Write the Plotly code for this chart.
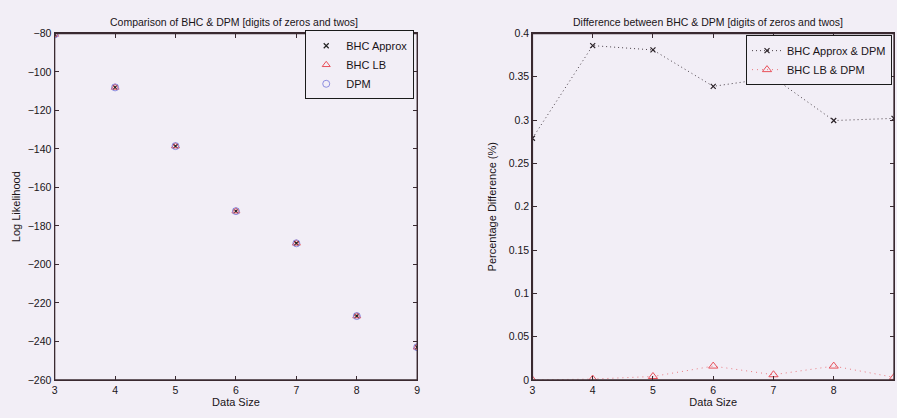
import plotly.graph_objects as go

# Data sizes tested
data_size = [3, 4, 5, 6, 7, 8, 9]

# Log likelihoods (left panel)
bhc_approx = [-80.5, -108, -138.5, -172.3, -189, -226.8, -243]
bhc_lb = [-80.5, -108, -138.5, -172.3, -189, -226.8, -243]
dpm = [-80.5, -108, -138.5, -172.3, -189, -226.8, -243]

# Percentage differences (right panel)
diff_approx_dpm = [0.279, 0.386, 0.381, 0.339, 0.349, 0.2995, 0.302]
diff_lb_dpm = [0.0, 0.001, 0.004, 0.016, 0.006, 0.016, 0.003]

# Tick values
left_yticks = [-80, -100, -120, -140, -160, -180, -200, -220, -240, -260]
right_yticks = [0, 0.05, 0.1, 0.15, 0.2, 0.25, 0.3, 0.35, 0.4]

BG = "#f2eef6"
AXC = "#3a2a31"
TXT = "#1a1418"
FONT = "Liberation Sans, Arial, sans-serif"

fig = go.Figure()

fig.add_trace(go.Scatter(
    x=data_size, y=bhc_approx, mode="markers", name="BHC Approx",
    marker=dict(symbol="x-thin-open", size=5, color="#222222", line=dict(width=1.2, color="#222222")),
    xaxis="x", yaxis="y", legend="legend"))
fig.add_trace(go.Scatter(
    x=data_size, y=bhc_lb, mode="markers", name="BHC LB",
    marker=dict(symbol="triangle-up-open", size=7, color="#e8505a", line=dict(width=1)),
    xaxis="x", yaxis="y", legend="legend"))
fig.add_trace(go.Scatter(
    x=data_size, y=dpm, mode="markers", name="DPM",
    marker=dict(symbol="circle-open", size=7, color="#8c8ce0", line=dict(width=1)),
    xaxis="x", yaxis="y", legend="legend"))

fig.add_trace(go.Scatter(
    x=data_size, y=diff_approx_dpm, mode="lines+markers", name="BHC Approx & DPM",
    line=dict(color="#4a4048", width=1, dash="1px,3px"),
    marker=dict(symbol="x-thin-open", size=5, color="#2a2228", line=dict(width=1.2, color="#2a2228")),
    xaxis="x2", yaxis="y2", legend="legend2"))
fig.add_trace(go.Scatter(
    x=data_size, y=diff_lb_dpm, mode="lines+markers", name="BHC LB & DPM",
    line=dict(color="#e87a80", width=1, dash="1px,4px"),
    marker=dict(symbol="triangle-up-open", size=8, color="#e8505a", line=dict(width=1)),
    xaxis="x2", yaxis="y2", legend="legend2"))

axis_common = dict(
    showline=True, linecolor=AXC, linewidth=1.3, mirror="allticks",
    ticks="inside", ticklen=4, tickcolor=AXC, tickwidth=1,
    showgrid=False, zeroline=False,
    tickfont=dict(family=FONT, size=10.5, color=TXT),
    title_font=dict(family=FONT, size=11, color=TXT),
)

ydom = [1 - 385 / 418, 1 - 28.3 / 418]
xdom1 = [52 / 897, 417 / 897]
xdom2 = [533 / 897, 1.0]

# box frames around both panels
frames = [
    dict(type="rect", xref="x domain", yref="y domain", x0=0, x1=1, y0=0, y1=1,
         line=dict(color=AXC, width=1.3), fillcolor="rgba(0,0,0,0)", layer="above"),
    dict(type="rect", xref="x2 domain", yref="y2 domain", x0=0, x1=1, y0=0, y1=1,
         line=dict(color=AXC, width=1.3), fillcolor="rgba(0,0,0,0)", layer="above"),
]

fig.update_layout(
    width=897, height=418,
    margin=dict(l=0, r=0, t=0, b=0),
    paper_bgcolor=BG, plot_bgcolor=BG,
    font=dict(family=FONT, size=10, color=TXT),
    xaxis=dict(domain=xdom1, range=[3, 9], dtick=1,
               title=dict(text="Data Size", standoff=2), anchor="y", **axis_common),
    yaxis=dict(domain=ydom, range=[-260, -80], tickvals=left_yticks,
               title=dict(text="Log Likelihood", standoff=4), anchor="x", **axis_common),
    xaxis2=dict(domain=xdom2, range=[3, 9], dtick=1,
                title=dict(text="Data Size", standoff=2), anchor="y2", **axis_common),
    yaxis2=dict(domain=ydom, range=[0, 0.4], tickvals=right_yticks,
                title=dict(text="Percentage Difference (%)", standoff=9), anchor="x2", **axis_common),
    shapes=frames,
    legend=dict(x=414 / 897, y=1 - 25 / 418, xanchor="right", yanchor="top",
                bgcolor=BG, bordercolor="#1a1a1a", borderwidth=1,
                font=dict(family=FONT, size=11, color=TXT),
                tracegroupgap=0, itemwidth=30),
    legend2=dict(x=895 / 897, y=1 - 30 / 418, xanchor="right", yanchor="top",
                 bgcolor=BG, bordercolor="#1a1a1a", borderwidth=1,
                 font=dict(family=FONT, size=11, color=TXT),
                 tracegroupgap=0, itemwidth=30),
    annotations=[
        dict(text="Comparison of BHC & DPM [digits of zeros and twos]", x=233 / 897, y=1 - 16 / 418,
             xref="paper", yref="paper", xanchor="center", yanchor="middle", showarrow=False,
             font=dict(family=FONT, size=10.5, color=TXT)),
        dict(text="Difference between BHC & DPM [digits of zeros and twos]", x=710 / 897, y=1 - 16 / 418,
             xref="paper", yref="paper", xanchor="center", yanchor="middle", showarrow=False,
             font=dict(family=FONT, size=10.5, color=TXT)),
    ],
    showlegend=True,
)

fig.write_html("out.html")
